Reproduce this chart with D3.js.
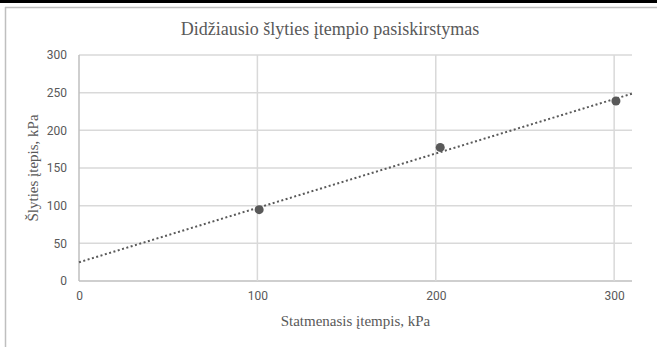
<!DOCTYPE html>
<html>
<head>
<meta charset="utf-8">
<script src="https://cdn.jsdelivr.net/npm/d3@7"></script>
<style>
  body { margin: 0; background: #fff; }
  svg text { fill: #595959; }
</style>
</head>
<body>
<svg width="657" height="347"></svg>
<script>
var stressNormal = [101, 202.5, 301];
var stressShear = [94.7, 177.3, 239];
var xTicks = [0, 100, 200, 300];
var yTicks = [0, 50, 100, 150, 200, 250, 300];

var svg = d3.select("svg");
var margin = {top: 55, right: 25, bottom: 66, left: 79};
var width = +svg.attr("width") - margin.left - margin.right;
var height = +svg.attr("height") - margin.top - margin.bottom;

// outer frame
svg.append("rect").attr("x", 0).attr("y", 0).attr("width", 657).attr("height", 3).attr("fill", "#000");
svg.append("line").attr("x1", 5.5).attr("x2", 5.5).attr("y1", 7).attr("y2", 347)
  .attr("stroke", "#bfbfbf").attr("stroke-width", 1.5);
svg.append("line").attr("x1", 5).attr("x2", 657).attr("y1", 7.5).attr("y2", 7.5)
  .attr("stroke", "#bfbfbf").attr("stroke-width", 1.5);

var x = d3.scaleLinear().domain([0, 310]).range([0, width]);
var y = d3.scaleLinear().domain([0, 300]).range([height, 0]);

var g = svg.append("g")
  .attr("transform", "translate(" + margin.left + "," + margin.top + ")");

// gridlines
g.selectAll(".hgrid").data(yTicks).enter().append("line")
  .attr("x1", 0).attr("x2", width)
  .attr("y1", function(d) { return y(d); }).attr("y2", function(d) { return y(d); })
  .attr("stroke", function(d) { return d === 0 ? "#bfbfbf" : "#d9d9d9"; })
  .attr("stroke-width", 1.5);
g.selectAll(".vgrid").data(xTicks).enter().append("line")
  .attr("x1", function(d) { return x(d); }).attr("x2", function(d) { return x(d); })
  .attr("y1", 0).attr("y2", height)
  .attr("stroke", function(d) { return d === 0 ? "#bfbfbf" : "#d9d9d9"; })
  .attr("stroke-width", 1.5);

// axes (labels only)
var xAxis = g.append("g")
  .attr("transform", "translate(0," + height + ")")
  .call(d3.axisBottom(x).tickValues(xTicks).tickSize(0).tickPadding(10));
var yAxis = g.append("g")
  .call(d3.axisLeft(y).tickValues(yTicks).tickSize(0).tickPadding(12));
[xAxis, yAxis].forEach(function(a) {
  a.select(".domain").remove();
  a.selectAll("text").style("font-family", "Roboto, sans-serif").style("font-size", "12px").attr("fill", "#595959");
});

// trendline (least squares)
var mx = d3.mean(stressNormal), my = d3.mean(stressShear);
var sxy = d3.sum(stressNormal, function(d, i) { return (d - mx) * (stressShear[i] - my); });
var sxx = d3.sum(stressNormal, function(d) { return (d - mx) * (d - mx); });
var slope = sxy / sxx, intercept = my - slope * mx;
var xEnd = x.domain()[1];
g.append("line")
  .attr("x1", x(0)).attr("y1", y(intercept))
  .attr("x2", x(xEnd)).attr("y2", y(intercept + slope * xEnd))
  .attr("stroke", "#595959").attr("stroke-width", 2).attr("stroke-dasharray", "2,2.5");

// points
g.selectAll(".pt").data(stressNormal).enter().append("circle")
  .attr("cx", function(d) { return x(d); })
  .attr("cy", function(d, i) { return y(stressShear[i]); })
  .attr("r", 4.5)
  .attr("fill", "#595959");

// titles
svg.append("text").attr("x", 330).attr("y", 35).attr("text-anchor", "middle")
  .style("font-family", "'Liberation Serif', serif").style("font-size", "18px")
  .text("Didžiausio šlyties įtempio pasiskirstymas");
svg.append("text").attr("x", margin.left + width / 2).attr("y", 326).attr("text-anchor", "middle")
  .style("font-family", "'Liberation Serif', serif").style("font-size", "15px")
  .text("Statmenasis įtempis, kPa");
svg.append("text").attr("transform", "translate(38," + (margin.top + height / 2) + ") rotate(-90)").attr("text-anchor", "middle")
  .style("font-family", "'Liberation Serif', serif").style("font-size", "15px")
  .text("Šlyties įtepis, kPa");
</script>
</body>
</html>
